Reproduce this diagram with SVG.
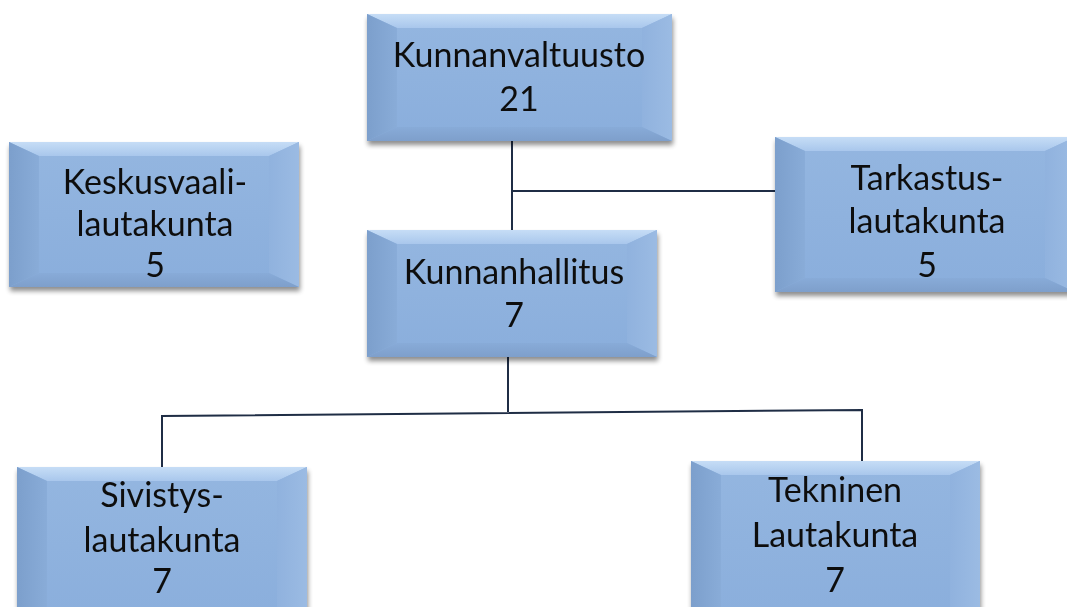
<svg xmlns="http://www.w3.org/2000/svg" width="1067" height="607" viewBox="0 0 1067 607">
<defs>
<filter id="sh" x="-10%" y="-10%" width="120%" height="130%">
<feGaussianBlur in="SourceAlpha" stdDeviation="2.5"/>
<feOffset dx="1" dy="4" result="b"/>
<feComponentTransfer><feFuncA type="linear" slope="0.45"/></feComponentTransfer>
<feMerge><feMergeNode/><feMergeNode in="SourceGraphic"/></feMerge>
</filter>
<linearGradient id="face" x1="0" y1="0" x2="0" y2="1">
<stop offset="0" stop-color="#94B6E0"/><stop offset="1" stop-color="#8AAEDC"/>
</linearGradient>
<linearGradient id="top" x1="0" y1="0" x2="0" y2="1">
<stop offset="0" stop-color="#C6DDF6"/><stop offset="1" stop-color="#A9C7EC"/>
</linearGradient>
<linearGradient id="left" x1="0" y1="0" x2="1" y2="0">
<stop offset="0" stop-color="#7C9FCC"/><stop offset="1" stop-color="#89ACD8"/>
</linearGradient>
<linearGradient id="right" x1="0" y1="0" x2="1" y2="0">
<stop offset="0" stop-color="#90B2DE"/><stop offset="1" stop-color="#9BBBE3"/>
</linearGradient>
<linearGradient id="bot" x1="0" y1="0" x2="0" y2="1">
<stop offset="0" stop-color="#88ABD8"/><stop offset="1" stop-color="#7E9FCB"/>
</linearGradient>
</defs>
<style>
.t{font-family:"Lato","Open Sans",sans-serif;font-size:34px;fill:#111;text-anchor:middle}
.c{fill:none;stroke:#1F2D45;stroke-width:2}
</style>

<g id="connectors">
<path class="c" d="M512,141 V230 M512,191 H775"/>
<path class="c" d="M508,357 V412 M162,467 V416 L862,410 V461"/>
</g>

<g id="kunnanvaltuusto" filter="url(#sh)">
<rect x="367" y="14" width="305" height="127" fill="url(#face)"/>
<polygon points="367,14 672,14 642,28 397,28" fill="url(#top)"/>
<polygon points="367,14 397,28 397,127 367,141" fill="url(#left)"/>
<polygon points="672,14 642,28 642,127 672,141" fill="url(#right)"/>
<polygon points="367,141 397,127 642,127 672,141" fill="url(#bot)"/>
<text class="t" x="519" y="67">Kunnanvaltuusto</text>
<text class="t" x="519" y="111">21</text>
</g>

<g id="keskusvaalilautakunta" filter="url(#sh)">
<rect x="9" y="142" width="290" height="145" fill="url(#face)"/>
<polygon points="9,142 299,142 269,156 39,156" fill="url(#top)"/>
<polygon points="9,142 39,156 39,273 9,287" fill="url(#left)"/>
<polygon points="299,142 269,156 269,273 299,287" fill="url(#right)"/>
<polygon points="9,287 39,273 269,273 299,287" fill="url(#bot)"/>
<text class="t" x="155" y="194">Keskusvaali-</text>
<text class="t" x="155" y="236">lautakunta</text>
<text class="t" x="155" y="277">5</text>
</g>

<g id="kunnanhallitus" filter="url(#sh)">
<rect x="367" y="230" width="290" height="127" fill="url(#face)"/>
<polygon points="367,230 657,230 627,244 397,244" fill="url(#top)"/>
<polygon points="367,230 397,244 397,343 367,357" fill="url(#left)"/>
<polygon points="657,230 627,244 627,343 657,357" fill="url(#right)"/>
<polygon points="367,357 397,343 627,343 657,357" fill="url(#bot)"/>
<text class="t" x="514" y="284">Kunnanhallitus</text>
<text class="t" x="514" y="327">7</text>
</g>

<g id="tarkastuslautakunta" filter="url(#sh)">
<rect x="775" y="137" width="300" height="155" fill="url(#face)"/>
<polygon points="775,137 1075,137 1045,151 805,151" fill="url(#top)"/>
<polygon points="775,137 805,151 805,278 775,292" fill="url(#left)"/>
<polygon points="1075,137 1045,151 1045,278 1075,292" fill="url(#right)"/>
<polygon points="775,292 805,278 1045,278 1075,292" fill="url(#bot)"/>
<text class="t" x="927" y="190">Tarkastus-</text>
<text class="t" x="927" y="233">lautakunta</text>
<text class="t" x="927" y="277">5</text>
</g>

<g id="sivistyslautakunta" filter="url(#sh)">
<rect x="17" y="467" width="290" height="160" fill="url(#face)"/>
<polygon points="17,467 307,467 277,481 47,481" fill="url(#top)"/>
<polygon points="17,467 47,481 47,627 17,627" fill="url(#left)"/>
<polygon points="307,467 277,481 277,627 307,627" fill="url(#right)"/>
<text class="t" x="162" y="507">Sivistys-</text>
<text class="t" x="162" y="552">lautakunta</text>
<text class="t" x="162" y="593">7</text>
</g>

<g id="tekninenlautakunta" filter="url(#sh)">
<rect x="691" y="461" width="289" height="166" fill="url(#face)"/>
<polygon points="691,461 980,461 950,475 721,475" fill="url(#top)"/>
<polygon points="691,461 721,475 721,627 691,627" fill="url(#left)"/>
<polygon points="980,461 950,475 950,627 980,627" fill="url(#right)"/>
<text class="t" x="835" y="502">Tekninen</text>
<text class="t" x="835" y="547">Lautakunta</text>
<text class="t" x="835" y="592">7</text>
</g>
</svg>
